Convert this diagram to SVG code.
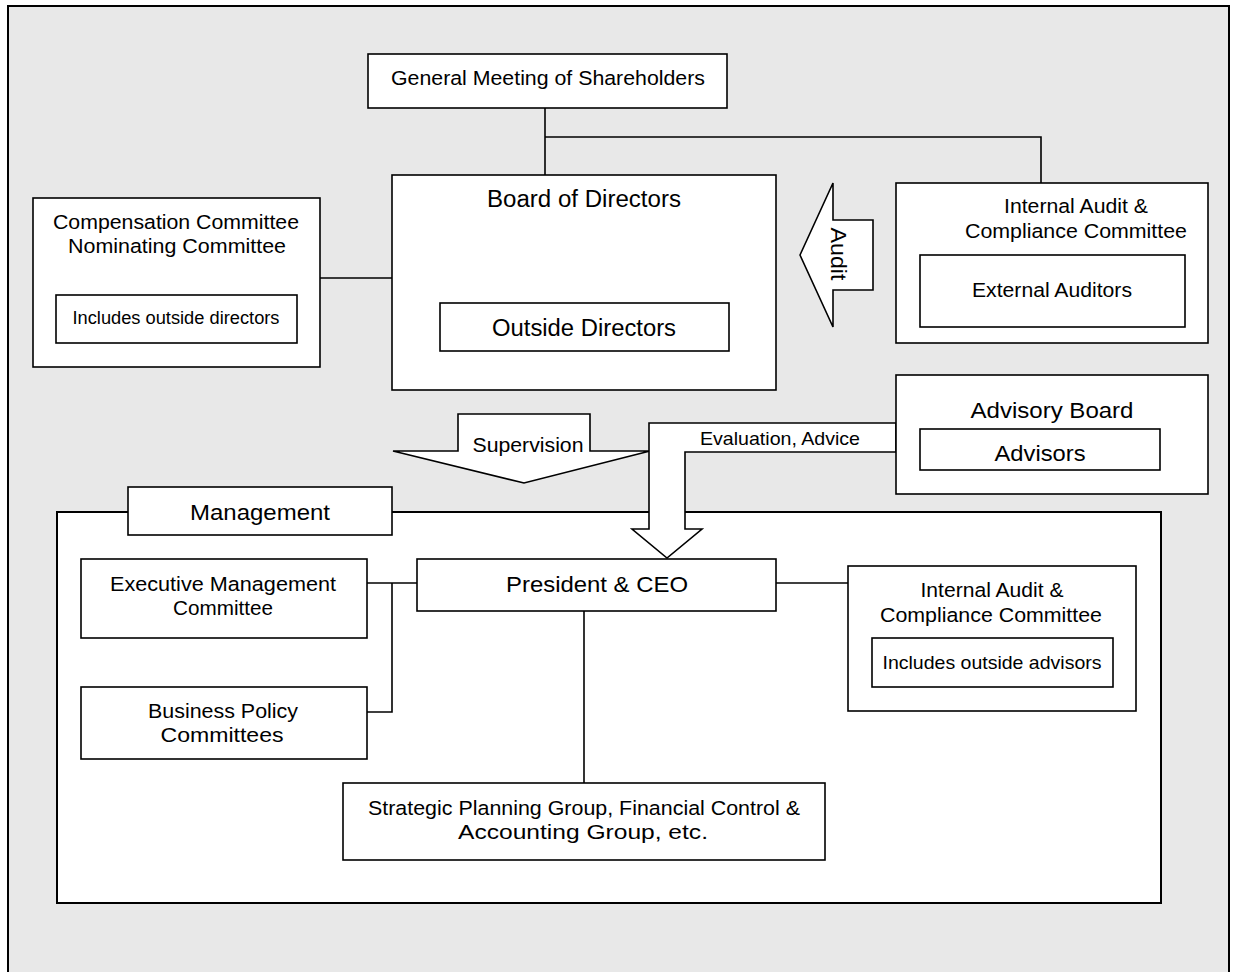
<svg xmlns="http://www.w3.org/2000/svg" width="1237" height="972" viewBox="0 0 1237 972">
<style>
text{font-family:"Liberation Sans",Arial,Helvetica,sans-serif;fill:#000;text-anchor:middle}
.box{fill:#fff;stroke:#000;stroke-width:1.6}
.ln{fill:none;stroke:#000;stroke-width:1.6}
.t19{font-size:20.5px}
.t21{font-size:22.5px}
.t22{font-size:23.5px}
.t17{font-size:18.5px}
</style>
<rect x="0" y="0" width="1237" height="972" fill="#fff"/>
<rect id="frame" x="8" y="6" width="1221" height="990" fill="#e8e8e8" stroke="#000" stroke-width="2"/>

<g id="management">
<rect x="57" y="512" width="1104" height="391" fill="#fff" stroke="#000" stroke-width="2"/>
<rect class="box" x="128" y="487" width="264" height="48"/>
<text class="t21" x="260" y="520" textLength="140" lengthAdjust="spacingAndGlyphs">Management</text>
</g>

<g id="connectors">
<polyline class="ln" points="545,108 545,175"/>
<polyline class="ln" points="545,137 1041,137 1041,183"/>
<line class="ln" x1="320" y1="278" x2="392" y2="278"/>
<line class="ln" x1="367" y1="583" x2="417" y2="583"/>
<polyline class="ln" points="392,583 392,712 367,712"/>
<line class="ln" x1="776" y1="583" x2="848" y2="583"/>
<line class="ln" x1="584" y1="611" x2="584" y2="783"/>
</g>

<g id="audit-arrow">
<polygon class="box" points="800,255 833,183 833,220 873,220 873,290 833,290 833,327"/>
<text class="t21" transform="translate(831,254) rotate(90)" x="0" y="0" textLength="53" lengthAdjust="spacingAndGlyphs">Audit</text>
</g>

<g id="supervision-arrow">
<polygon class="box" points="393,451 458,451 458,414 590,414 590,451 650,451 524,483"/>
<text class="t19" x="528" y="452" textLength="111" lengthAdjust="spacingAndGlyphs">Supervision</text>
</g>

<g id="evaluation-arrow">
<polygon class="box" points="896,423 649,423 649,529 632,529 667,558 702,529 685,529 685,452 896,452"/>
<text class="t17" x="780" y="445" textLength="160" lengthAdjust="spacingAndGlyphs">Evaluation, Advice</text>
</g>

<g id="gms">
<rect class="box" x="368" y="54" width="359" height="54"/>
<text class="t19" x="548" y="85" textLength="314" lengthAdjust="spacingAndGlyphs">General Meeting of Shareholders</text>
</g>

<g id="board">
<rect class="box" x="392" y="175" width="384" height="215"/>
<text class="t22" x="584" y="207" textLength="194" lengthAdjust="spacingAndGlyphs">Board of Directors</text>
<rect class="box" x="440" y="303" width="289" height="48"/>
<text class="t22" x="584" y="336" textLength="184" lengthAdjust="spacingAndGlyphs">Outside Directors</text>
</g>

<g id="compensation">
<rect class="box" x="33" y="198" width="287" height="169"/>
<text class="t19" x="176" y="229" textLength="246" lengthAdjust="spacingAndGlyphs">Compensation Committee</text>
<text class="t19" x="177" y="253" textLength="218" lengthAdjust="spacingAndGlyphs">Nominating Committee</text>
<rect class="box" x="56" y="295" width="241" height="48"/>
<text style="font-size:18px" x="176" y="324" textLength="207" lengthAdjust="spacingAndGlyphs">Includes outside directors</text>
</g>

<g id="internal-audit-top">
<rect class="box" x="896" y="183" width="312" height="160"/>
<text class="t19" x="1076" y="213" textLength="144" lengthAdjust="spacingAndGlyphs">Internal Audit &amp;</text>
<text class="t19" x="1076" y="238" textLength="222" lengthAdjust="spacingAndGlyphs">Compliance Committee</text>
<rect class="box" x="920" y="255" width="265" height="72"/>
<text class="t19" x="1052" y="297" textLength="160" lengthAdjust="spacingAndGlyphs">External Auditors</text>
</g>

<g id="advisory">
<rect class="box" x="896" y="375" width="312" height="119"/>
<text class="t21" x="1052" y="418" textLength="163" lengthAdjust="spacingAndGlyphs">Advisory Board</text>
<rect class="box" x="920" y="429" width="240" height="41"/>
<text class="t21" x="1040" y="461" textLength="91" lengthAdjust="spacingAndGlyphs">Advisors</text>
</g>

<g id="ceo">
<rect class="box" x="417" y="559" width="359" height="52"/>
<text class="t21" x="597" y="592" textLength="182" lengthAdjust="spacingAndGlyphs">President &amp; CEO</text>
</g>

<g id="exec">
<rect class="box" x="81" y="559" width="286" height="79"/>
<text class="t19" x="223" y="591" textLength="226" lengthAdjust="spacingAndGlyphs">Executive Management</text>
<text class="t19" x="223" y="615" textLength="100" lengthAdjust="spacingAndGlyphs">Committee</text>
</g>

<g id="business-policy">
<rect class="box" x="81" y="687" width="286" height="72"/>
<text class="t19" x="223" y="718" textLength="150" lengthAdjust="spacingAndGlyphs">Business Policy</text>
<text class="t19" x="222" y="742" textLength="123" lengthAdjust="spacingAndGlyphs">Committees</text>
</g>

<g id="internal-audit-mgmt">
<rect class="box" x="848" y="566" width="288" height="145"/>
<text class="t19" x="992" y="597" textLength="143" lengthAdjust="spacingAndGlyphs">Internal Audit &amp;</text>
<text class="t19" x="991" y="622" textLength="222" lengthAdjust="spacingAndGlyphs">Compliance Committee</text>
<rect class="box" x="872" y="638" width="241" height="49"/>
<text class="t17" x="992" y="669" textLength="219" lengthAdjust="spacingAndGlyphs">Includes outside advisors</text>
</g>

<g id="strategic">
<rect class="box" x="343" y="783" width="482" height="77"/>
<text class="t19" x="584" y="815" textLength="432" lengthAdjust="spacingAndGlyphs">Strategic Planning Group, Financial Control &amp;</text>
<text class="t19" x="583" y="839" textLength="250" lengthAdjust="spacingAndGlyphs">Accounting Group, etc.</text>
</g>
</svg>
